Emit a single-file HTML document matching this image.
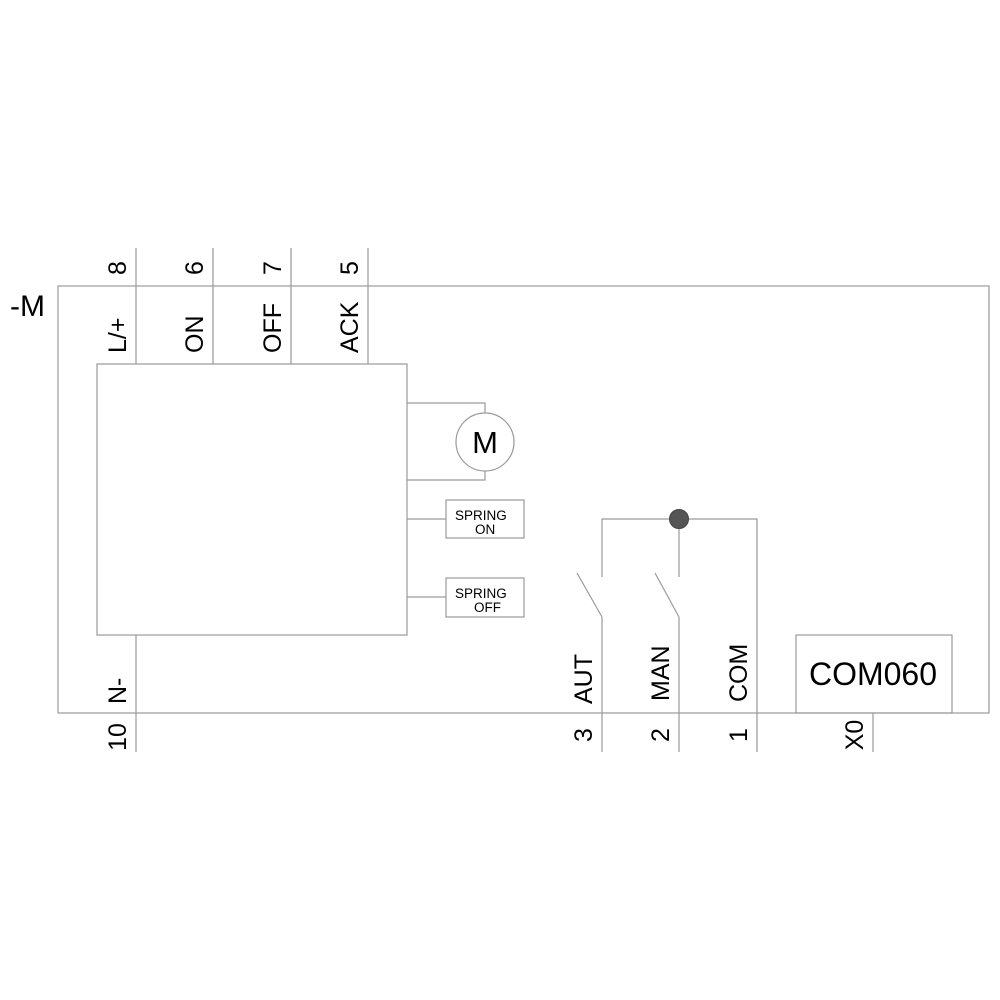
<!DOCTYPE html>
<html><head><meta charset="utf-8"><style>
html,body{margin:0;padding:0;background:#fff;}
svg{display:block;}
text{font-family:"Liberation Sans",Arial,sans-serif;fill:#000;}
</style></head><body>
<svg width="1000" height="1000" viewBox="0 0 1000 1000" xmlns="http://www.w3.org/2000/svg">
<g stroke="#9a9a9a" stroke-width="1.2" fill="none">
  <!-- outer box -->
  <rect x="58" y="286" width="931" height="427"/>
  <!-- top terminal lines -->
  <line x1="136" y1="248" x2="136" y2="364"/>
  <line x1="213" y1="248" x2="213" y2="364"/>
  <line x1="291" y1="248" x2="291" y2="364"/>
  <line x1="368" y1="248" x2="368" y2="364"/>
  <!-- inner box -->
  <rect x="97" y="364" width="310" height="271"/>
  <!-- N- line -->
  <line x1="136" y1="635" x2="136" y2="752"/>
  <!-- motor -->
  <polyline points="407,403 485,403 485,413"/>
  <polyline points="407,480 485,480 485,471"/>
  <circle cx="485" cy="442" r="29"/>
  <!-- spring on -->
  <line x1="407" y1="519" x2="446" y2="519"/>
  <rect x="446" y="500" width="78" height="38"/>
  <!-- spring off -->
  <line x1="407" y1="597" x2="446" y2="597"/>
  <rect x="446" y="578" width="78" height="39"/>
  <!-- switches -->
  <polyline points="602,577 602,519 757,519 757,752"/>
  <line x1="679" y1="519" x2="679" y2="577"/>
  <line x1="577" y1="573" x2="602" y2="617"/>
  <line x1="602" y1="617" x2="602" y2="752"/>
  <line x1="655" y1="573" x2="679" y2="617"/>
  <line x1="679" y1="617" x2="679" y2="752"/>
  <!-- COM060 -->
  <rect x="796" y="635" width="156" height="78"/>
  <line x1="873" y1="713" x2="873" y2="752"/>
</g>
<circle cx="679" cy="519" r="9.5" fill="#555" stroke="#444" stroke-width="1"/>

<text x="10" y="316" font-size="30">-M</text>

<!-- top digits -->
<g font-size="25" text-anchor="middle">
  <text transform="translate(126,268) rotate(-90)">8</text>
  <text transform="translate(203,268) rotate(-90)">6</text>
  <text transform="translate(281,268) rotate(-90)">7</text>
  <text transform="translate(358,268) rotate(-90)">5</text>
</g>
<!-- top labels -->
<g font-size="25">
  <text transform="translate(126,353) rotate(-90)">L/+</text>
  <text transform="translate(203,353) rotate(-90)">ON</text>
  <text transform="translate(281,353) rotate(-90)">OFF</text>
  <text transform="translate(358,353) rotate(-90)">ACK</text>
</g>
<!-- bottom labels -->
<g font-size="25">
  <text transform="translate(126,704) rotate(-90)">N-</text>
  <text transform="translate(592,704) rotate(-90)">AUT</text>
  <text transform="translate(669,701) rotate(-90)">MAN</text>
  <text transform="translate(747,702) rotate(-90)">COM</text>
</g>
<!-- bottom digits -->
<g font-size="25" text-anchor="middle">
  <text transform="translate(126,737) rotate(-90)">10</text>
  <text transform="translate(592,735) rotate(-90)">3</text>
  <text transform="translate(669,735) rotate(-90)">2</text>
  <text transform="translate(747,735) rotate(-90)">1</text>
  <text transform="translate(863,735) rotate(-90)">X0</text>
</g>

<text x="485" y="453" font-size="31" text-anchor="middle">M</text>
<text x="455" y="520" font-size="13.5">SPRING</text>
<text x="475" y="534" font-size="13.5">ON</text>
<text x="455" y="598" font-size="13.5">SPRING</text>
<text x="474" y="612" font-size="13.5">OFF</text>
<text x="873" y="685" font-size="32" text-anchor="middle">COM060</text>
</svg>
</body></html>
